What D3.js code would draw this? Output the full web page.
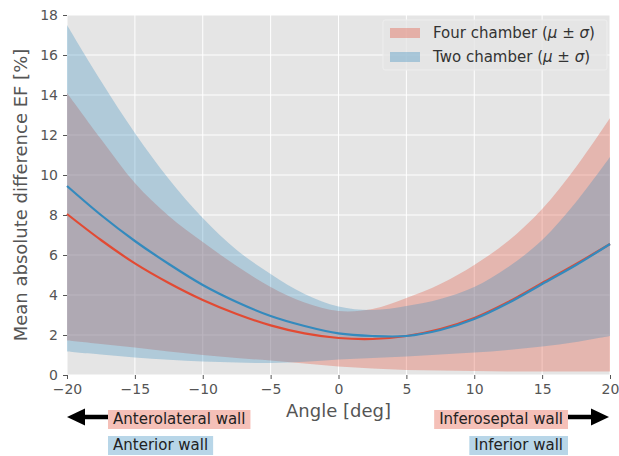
<!DOCTYPE html>
<html>
<head>
<meta charset="utf-8">
<script src="https://cdn.jsdelivr.net/npm/d3@7"></script>
<style>
  html, body { margin: 0; padding: 0; background: #ffffff; }
  svg { display: block; font-family: "DejaVu Sans", sans-serif; }
</style>
</head>
<body>
<svg id="chart" width="619" height="456"></svg>
<script>
const angles = [-20, -17.5, -15, -12.5, -10, -7.5, -5, -2.5, 0, 2.5, 5, 7.5, 10, 12.5, 15, 17.5, 20];
const fourMean  = [8.05, 6.75, 5.58, 4.6, 3.75, 3.05, 2.48, 2.08, 1.85, 1.8, 1.95, 2.3, 2.85, 3.65, 4.6, 5.55, 6.55];
const fourUpper = [14.1, 11.8, 9.6, 7.95, 6.65, 5.45, 4.4, 3.62, 3.2, 3.3, 3.85, 4.55, 5.5, 6.7, 8.3, 10.4, 12.85];
const fourLower = [1.72, 1.55, 1.38, 1.18, 1.0, 0.85, 0.72, 0.57, 0.42, 0.32, 0.25, 0.22, 0.2, 0.18, 0.17, 0.17, 0.17];
const twoMean   = [9.45, 8.0, 6.7, 5.55, 4.5, 3.65, 2.95, 2.45, 2.08, 1.95, 1.95, 2.25, 2.8, 3.6, 4.55, 5.5, 6.55];
const twoUpper  = [17.5, 14.7, 12.1, 9.8, 7.85, 6.25, 5.05, 4.05, 3.42, 3.25, 3.45, 3.8, 4.4, 5.4, 6.75, 8.65, 10.9];
const twoLower  = [1.17, 1.02, 0.88, 0.76, 0.67, 0.62, 0.6, 0.66, 0.78, 0.85, 0.92, 1.02, 1.12, 1.25, 1.42, 1.65, 1.95];
const xTicks = [-20, -15, -10, -5, 0, 5, 10, 15, 20];
const yTicks = [0, 2, 4, 6, 8, 10, 12, 14, 16, 18];
const seriesNames = ["Four chamber", "Two chamber"];
const xLabel = "Angle [deg]";
const yLabel = "Mean absolute difference EF [%]";
const leftNotes = ["Anterolateral wall", "Anterior wall"];
const rightNotes = ["Inferoseptal wall", "Inferior wall"];

const RED = "#E24A33", BLUE = "#348ABD";
const margin = {left: 67, right: 9, top: 15, bottom: 81};
const W = 619, H = 456;
const svg = d3.select("#chart");
const x = d3.scaleLinear().domain([-20, 20]).range([margin.left, W - margin.right]);
const y = d3.scaleLinear().domain([0, 18]).range([H - margin.bottom, margin.top]);

// background
svg.append("rect").attr("x", x(-20)).attr("y", y(18))
  .attr("width", x(20) - x(-20)).attr("height", y(0) - y(18)).attr("fill", "#E5E5E5");

// grid
svg.append("g").selectAll("line").data(xTicks).join("line")
  .attr("x1", d => x(d)).attr("x2", d => x(d)).attr("y1", y(0)).attr("y2", y(18))
  .attr("stroke", "#fff").attr("stroke-width", 1);
svg.append("g").selectAll("line").data(yTicks).join("line")
  .attr("y1", d => y(d)).attr("y2", d => y(d)).attr("x1", x(-20)).attr("x2", x(20))
  .attr("stroke", "#fff").attr("stroke-width", 1);

const pts = (lo, hi) => angles.map((a, i) => ({a, lo: lo[i], hi: hi[i]}));
const area = d3.area().x(d => x(d.a)).y0(d => y(d.lo)).y1(d => y(d.hi)).curve(d3.curveCatmullRom);
const line = d3.line().x(d => x(d.a)).y(d => y(d.hi)).curve(d3.curveCatmullRom);

svg.append("path").datum(pts(fourLower, fourUpper)).attr("d", area).attr("fill", RED).attr("fill-opacity", 0.3);
svg.append("path").datum(pts(twoLower, twoUpper)).attr("d", area).attr("fill", BLUE).attr("fill-opacity", 0.3);
svg.append("path").datum(pts(fourMean, fourMean)).attr("d", line).attr("fill", "none").attr("stroke", RED).attr("stroke-width", 2.2);
svg.append("path").datum(pts(twoMean, twoMean)).attr("d", line).attr("fill", "none").attr("stroke", BLUE).attr("stroke-width", 2.2);

// axes
const xAxis = svg.append("g").attr("transform", `translate(0,${y(0)})`)
  .call(d3.axisBottom(x).tickValues(xTicks).tickSize(4).tickPadding(5).tickFormat(d => d < 0 ? "\u2212" + Math.abs(d) : d));
const yAxis = svg.append("g").attr("transform", `translate(${x(-20)},0)`)
  .call(d3.axisLeft(y).tickValues(yTicks).tickSize(4).tickPadding(5));
[xAxis, yAxis].forEach(g => {
  g.select(".domain").remove();
  g.selectAll(".tick line").attr("stroke", "#555").attr("stroke-width", 1);
  g.selectAll(".tick text").attr("fill", "#555").attr("font-size", 14).attr("font-family", "DejaVu Sans");
});

svg.append("text").attr("x", x(0)).attr("y", 417).attr("text-anchor", "middle")
  .attr("font-size", 18).attr("fill", "#555").text(xLabel);
svg.append("text").attr("transform", `translate(27,${(y(0) + y(18)) / 2}) rotate(-90)`)
  .attr("text-anchor", "middle").attr("font-size", 18).attr("fill", "#555").text(yLabel);

// legend
const lg = svg.append("g");
lg.append("rect").attr("x", 383).attr("y", 20).attr("width", 224).attr("height", 50).attr("rx", 2)
  .attr("fill", "#E5E5E5").attr("fill-opacity", 0.8).attr("stroke", "#eeeeee").attr("stroke-width", 1);
[RED, BLUE].forEach((c, i) => {
  const yy = 28 + i * 24;
  lg.append("rect").attr("x", 390).attr("y", yy).attr("width", 30).attr("height", 10).attr("fill", c).attr("fill-opacity", 0.35);
  const t = lg.append("text").attr("x", 433).attr("y", yy + 10).attr("font-size", 15).attr("fill", "#333");
  t.append("tspan").text(seriesNames[i] + " (");
  t.append("tspan").attr("font-style", "italic").text("\u03bc");
  t.append("tspan").text(" \u00b1 ");
  t.append("tspan").attr("font-style", "italic").text("\u03c3");
  t.append("tspan").text(")");
});

// annotations
function note(txt, xPos, baseY, color, anchor) {
  const g = svg.append("g");
  const t = g.append("text").attr("x", xPos).attr("y", baseY).attr("font-size", 15).attr("fill", "#222")
    .attr("text-anchor", anchor).text(txt);
  const bb = t.node().getBBox();
  g.insert("rect", "text").attr("x", bb.x - 5).attr("y", bb.y).attr("width", bb.width + 10).attr("height", bb.height + 1)
    .attr("fill", color).attr("fill-opacity", 0.35);
}
note(leftNotes[0], 113, 424, RED, "start");
note(leftNotes[1], 113, 450, BLUE, "start");
note(rightNotes[0], 563, 424, RED, "end");
note(rightNotes[1], 563, 450, BLUE, "end");

// arrows
function arrow(x0, x1, yy) {
  const dir = Math.sign(x1 - x0);
  const headL = 18, headH = 8.5;
  svg.append("line").attr("x1", x0).attr("x2", x1 - dir * headL + dir).attr("y1", yy).attr("y2", yy)
    .attr("stroke", "#000").attr("stroke-width", 4.5);
  svg.append("path").attr("d", `M${x1},${yy} L${x1 - dir * headL},${yy - headH} L${x1 - dir * headL},${yy + headH} Z`).attr("fill", "#000");
}
arrow(108, 67, 417);
arrow(568, 609, 417);
</script>
</body>
</html>
